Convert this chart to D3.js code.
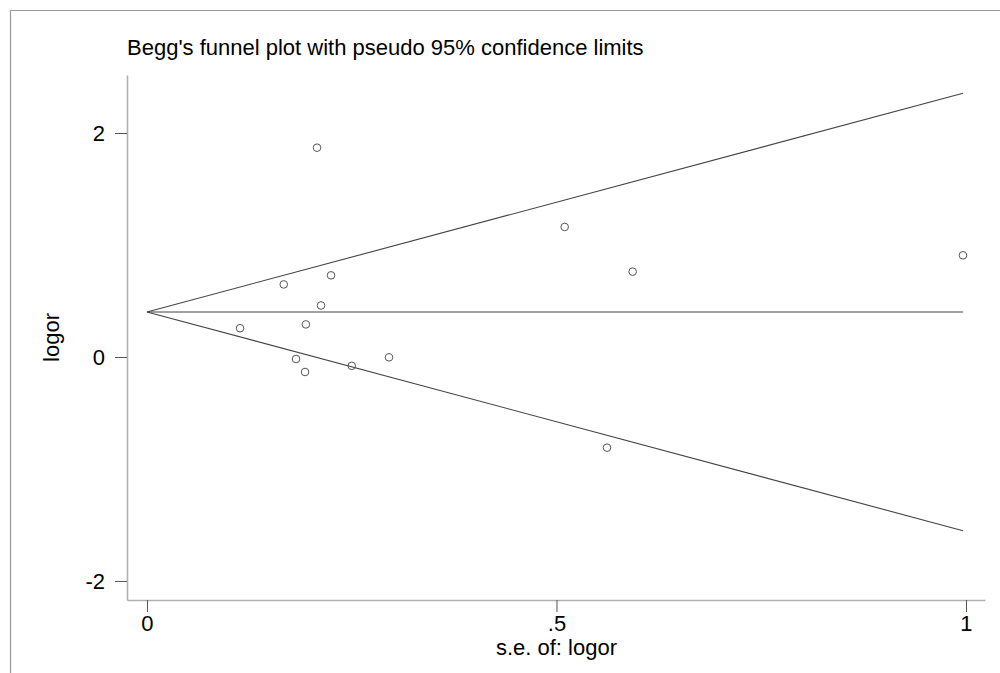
<!DOCTYPE html>
<html>
<head>
<meta charset="utf-8">
<script src="https://cdn.jsdelivr.net/npm/d3@7"></script>
<style>
  body { margin: 0; background: #fff; }
  svg text { font-family: "Liberation Sans", Arial, sans-serif; fill: #000; }
  .axis path { stroke: #b0b0b0; stroke-width: 1.6; }
  .axis line { stroke: #555; stroke-width: 1; }
  .axis text { font-size: 22px; }
</style>
</head>
<body>
<div id="chart"></div>
<script>
// study values
var seValues    = [0.1136, 0.167, 0.2076, 0.2125, 0.2247, 0.194, 0.182, 0.193, 0.250, 0.2955, 0.510, 0.593, 0.5617, 0.9963];
var logorValues = [0.257, 0.648, 1.869, 0.460, 0.729, 0.291, -0.018, -0.134, -0.079, -0.003, 1.161, 0.762, -0.810, 0.908];

// pooled estimate and pseudo 95% limits (endpoints)
var limitSe    = [0, 0.9963];
var centerLine = [0.402, 0.402];
var upperLine  = [0.402, 2.355];
var lowerLine  = [0.402, -1.551];

var xTicks = [0, 0.5, 1];
var xTickLabels = ["0", ".5", "1"];
var yTicks = [-2, 0, 2];
var yTickLabels = ["-2", "0", "2"];

var width = 1000, height = 673;

var svg = d3.select("#chart").append("svg")
    .attr("width", width)
    .attr("height", height);

// outer frame (only top and left show in the picture)
svg.append("path")
    .attr("d", "M10.5,673 L10.5,10.5 L1000,10.5")
    .attr("fill", "none")
    .attr("stroke", "#9a9a9a")
    .attr("stroke-width", 1.2);

var x = d3.scaleLinear().domain([-0.0244, 1.0232]).range([127, 985]);
var y = d3.scaleLinear().domain([-2.17, 2.518]).range([600, 75]);

svg.append("g")
    .attr("class", "axis")
    .attr("transform", "translate(0,600)")
    .call(d3.axisBottom(x)
        .tickValues(xTicks)
        .tickFormat(function(d, i) { return xTickLabels[i]; })
        .tickSizeInner(12)
        .tickSizeOuter(0)
        .tickPadding(3));

svg.append("g")
    .attr("class", "axis")
    .attr("transform", "translate(127,0)")
    .call(d3.axisLeft(y)
        .tickValues(yTicks)
        .tickFormat(function(d, i) { return yTickLabels[i]; })
        .tickSizeInner(12)
        .tickSizeOuter(0)
        .tickPadding(10));

var line = d3.line()
    .x(function(d) { return x(d[0]); })
    .y(function(d) { return y(d[1]); });

[centerLine, upperLine, lowerLine].forEach(function(l) {
  svg.append("path")
      .datum(limitSe.map(function(s, i) { return [s, l[i]]; }))
      .attr("d", line)
      .attr("fill", "none")
      .attr("stroke", "#444")
      .attr("stroke-width", 1.1);
});

svg.selectAll("circle.study")
    .data(seValues)
    .enter().append("circle")
    .attr("class", "study")
    .attr("cx", function(d) { return x(d); })
    .attr("cy", function(d, i) { return y(logorValues[i]); })
    .attr("r", 3.8)
    .attr("fill", "none")
    .attr("stroke", "#555")
    .attr("stroke-width", 1);

svg.append("text")
    .attr("x", 127)
    .attr("y", 55)
    .style("font-size", "22px")
    .text("Begg's funnel plot with pseudo 95% confidence limits");

svg.append("text")
    .attr("x", x(0.5))
    .attr("y", 655)
    .attr("text-anchor", "middle")
    .style("font-size", "22px")
    .text("s.e. of: logor");

svg.append("text")
    .attr("transform", "translate(59,337.5) rotate(-90)")
    .attr("text-anchor", "middle")
    .style("font-size", "22px")
    .text("logor");
</script>
</body>
</html>
